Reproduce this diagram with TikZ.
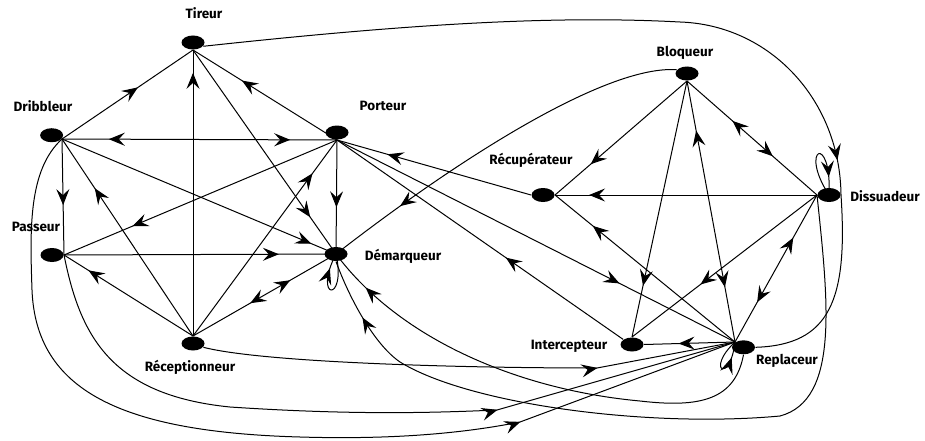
\documentclass[tikz,border=0pt]{standalone}
\usepackage{fontspec}
\setmainfont{Fira Sans}
\usetikzlibrary{shapes.geometric,decorations.markings,arrows.meta}
\begin{document}
\begin{tikzpicture}[x=1pt,y=-1pt,line width=1pt,
  dot/.style={ellipse,fill=black,minimum width=23pt,minimum height=14pt,inner sep=0pt},
  lbl/.style={font=\bfseries\fontsize{13.5}{15}\selectfont,inner sep=0pt},
  af/.style={postaction={decorate,decoration={markings,mark=at position #1 with {\arrow{>}}}}},
  ab/.style={postaction={decorate,decoration={markings,mark=at position #1 with {\arrowreversed{>}}}}},
  >={Stealth[length=16pt,width=13pt,inset=6pt]}
]
\useasboundingbox (0,0) rectangle (925,441);
% vertices
\node[dot,anchor=south] (tir) at (193,50) {};
\node[dot,anchor=-20] (dri) at (62,139) {};
\node[dot,anchor=south] (por) at (337,140) {};
\node[dot,anchor=east] (pas) at (64,255) {};
\node[dot] (dem) at (336,254) {};
\node[dot,anchor=north] (rec) at (193,336) {};
\node[dot,anchor=south] (blo) at (687,81) {};
\node[dot,anchor=east] (rcp) at (555,195) {};
\node[dot,anchor=west] (dis) at (817,195) {};
\node[dot,anchor=north] (int) at (632,337) {};
\node[dot,anchor=north west] (rep) at (735,342) {};
% labels
\node[lbl] (ltir) at (204,13) {Tireur};
\node[lbl] (ldri) at (43,106) {Dribbleur};
\node[lbl] (lpor) at (383,106) {Porteur};
\node[lbl] (lpas) at (36,227) {Passeur};
\node[lbl] (ldem) at (403,256) {Démarqueur};
\node[lbl] (lrec) at (190,367) {Réceptionneur};
\node[lbl] (lblo) at (685,53) {Bloqueur};
\node[lbl] (lrcp) at (531,160) {Récupérateur};
\node[lbl] (ldis) at (885,196) {Dissuadeur};
\node[lbl] (lint) at (569,346) {Intercepteur};
\node[lbl] (lrep) at (787,361) {Replaceur};
% left cluster
\draw[af=0.58] (dri.-20) -- (tir.south);
\draw[af=0.92] (rec.north) -- (tir.south);
\draw[af=0.66] (por.south) -- (tir.south);
\draw[af=0.82] (tir.south) -- (dem.center);
\draw[af=0.83,ab=0.17] (dri.-20) -- (por.south);
\draw[af=0.57] (dri.-20) -- (pas.east);
\draw[af=0.75] (rec.north) -- (dri.-20);
\draw[af=0.91] (dri.-20) -- (dem.center);
\draw[af=0.75] (por.south) -- (pas.east);
\draw[af=0.83] (rec.north) -- (por.south);
\draw[af=0.59] (por.south) -- (dem.center);
\draw[af=0.79] (pas.east) -- (dem.center);
\draw[af=0.81] (rec.north) -- (pas.east);
\draw[af=0.68,ab=0.40] (rec.north) -- (dem.center);
\draw[af=0.8] (dem.center) .. controls (347,304) and (312,300) .. (dem.center);
% cross edges
\draw[af=-35pt] (tir.-20) .. controls (400,25) and (550,15) .. (680,22) .. controls (770,25) and (840,100) .. (dis.east);
\draw[af=0.8] (dis.center) .. controls (798,148) and (832,132) .. (dis.center);
\draw[af=-80pt] (blo.160) .. controls (610,65) and (470,150) .. (dem.center);
\draw[af=0.74] (rcp.west) -- (por.south);
\draw[af=0.71] (por.south) -- (rep.north west);
\draw[af=0.41] (int.150) -- (por.south);
\draw[af=0.79] (rep.north west) -- (rcp.east);
\draw[af=0.73] (blo.south) -- (rcp.east);
\draw[af=0.87] (dis.west) -- (rcp.east);
\draw[af=0.66,ab=0.35] (blo.south) -- (dis.west);
\draw[af=0.80] (blo.south) -- (int.north);
\draw[af=0.79,ab=0.19] (blo.south) -- (rep.north west);
\draw[af=0.63] (dis.west) -- (int.north);
\draw[af=0.73,ab=0.29] (dis.west) -- (rep.north west);
\draw[af=0.62] (rep.north west) -- (int.east);
\draw[af=0.75] (rep.north west) .. controls (705,370) and (730,385) .. (rep.north west);
% bottom curves
\draw[af=-229pt] (dri.-20) .. controls (28,170) and (30,230) .. (32,290) .. controls (36,390) and (120,432) .. (300,437) .. controls (400,440) and (470,432) .. (520,422) -- (rep.north west);
\draw[af=-247pt] (pas.east) .. controls (80,335) and (110,395) .. (230,407) .. controls (350,415) and (430,413) .. (497,410) -- (rep.north west);
\draw[af=-140pt] (rec.-20) .. controls (260,362) and (450,368) .. (597,368) -- (rep.north west);
\draw[af=-45pt] (rep.south) .. controls (735,400) and (700,408) .. (640,401) .. controls (520,390) and (400,340) .. (dem.center);
\draw[af=-62pt] (dis.west) .. controls (828,300) and (840,400) .. (780,416) .. controls (650,428) and (470,405) .. (400,362) .. controls (375,345) and (350,300) .. (dem.south);
\draw (dis.east) .. controls (848,300) and (830,345) .. (rep.east);
\end{tikzpicture}
\end{document}
